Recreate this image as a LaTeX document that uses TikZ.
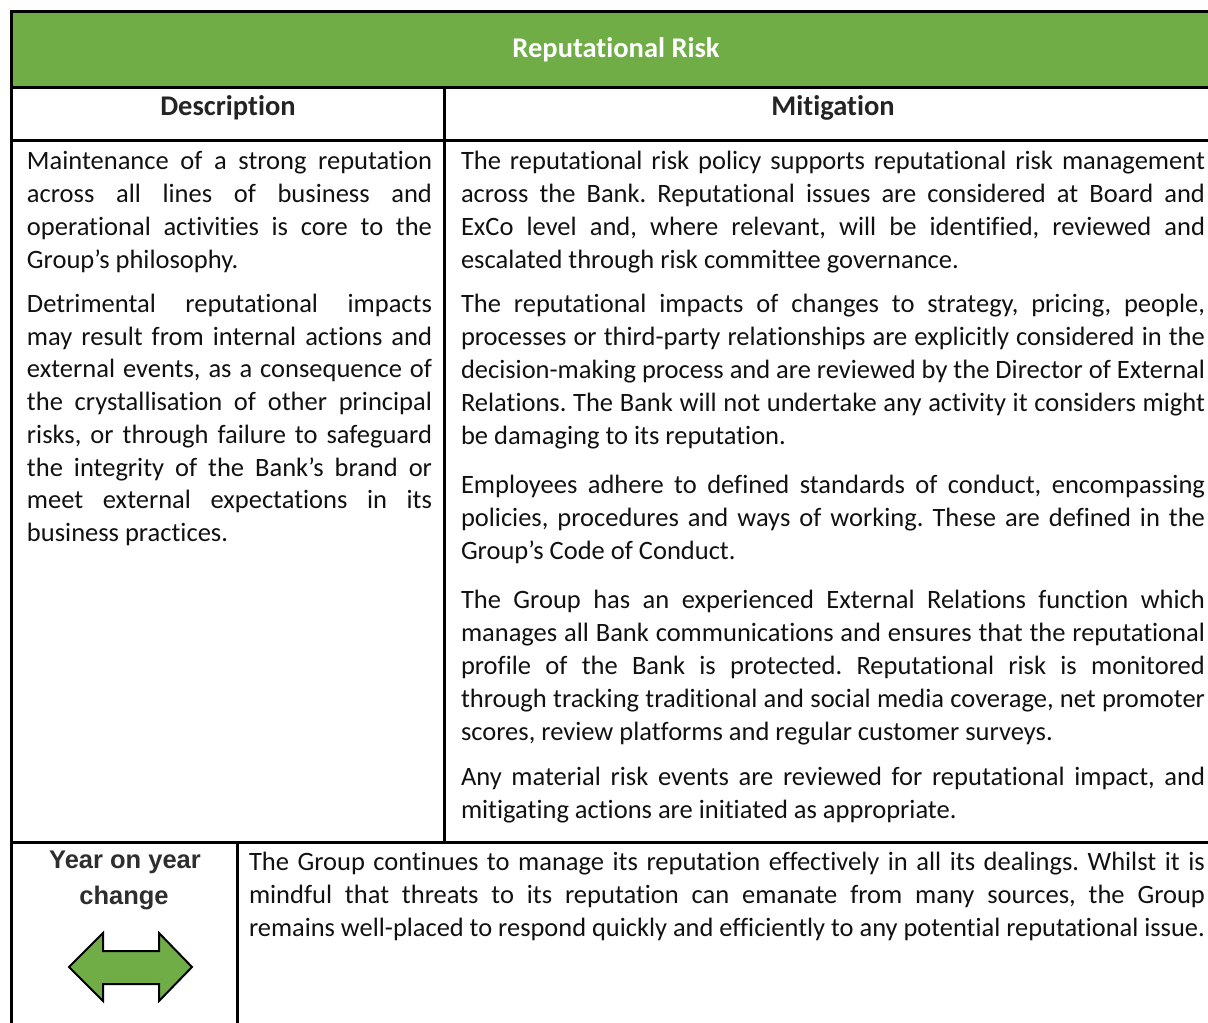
\documentclass[tikz,border=0pt]{standalone}
\usepackage{fontspec}
\setmainfont{Carlito}[Ligatures=NoCommon]
\newfontfamily\arialfont{Liberation Sans}
\usepackage{graphicx}
\frenchspacing
\definecolor{hdrgreen}{HTML}{70AD47}
\definecolor{ink}{HTML}{111111}
\newlength\jlw
\newcommand\jline[2]{\settowidth\jlw{#2}\ifdim\jlw>#1\relax\pgfmathsetmacro\jlf{#1/\jlw}\scalebox{\jlf}[1]{#2}\else\makebox[#1][s]{#2}\fi}
\newcommand\fline[2]{\settowidth\jlw{#2}\ifdim\jlw>#1\relax\pgfmathsetmacro\jlf{#1/\jlw}\scalebox{\jlf}[1]{#2}\else #2\fi}
\tikzset{
  rule/.style={line width=2.8pt, draw=black},
  body/.style={inner sep=0pt, outer sep=0pt, anchor=base west, text=ink, font=\fontsize{26.5}{31}\selectfont\frenchspacing},
  hdr/.style={inner sep=0pt, outer sep=0pt, anchor=base, font=\fontsize{28.5}{34}\selectfont\bfseries},
  yoy/.style={inner sep=0pt, outer sep=0pt, anchor=base, text=ink!88!white, font=\arialfont\bfseries\fontsize{25.5}{30}\selectfont},
  arrowshape/.style={fill=hdrgreen, draw=black, line width=2pt, line join=miter},
}
\begin{document}
\begin{tikzpicture}[x=1pt,y=-1pt]
\useasboundingbox (0,0) rectangle (1208,1023);
% green title band
\fill[hdrgreen] (13,13) rectangle (1208,86);
% rules
\draw[rule] (1208,11.5) -- (11.5,11.5) -- (11.5,1023);
\draw[rule] (13,87.3) -- (1208,87.3);
\draw[rule] (13,140.7) -- (1208,140.7);
\draw[rule] (444.5,87.3) -- (444.5,842.3);
\draw[rule] (13,842.3) -- (1208,842.3);
\draw[rule] (237.5,842.3) -- (237.5,1023);
% headers
\node[hdr, text=white] (title) at (616,57) {Reputational Risk};
\node[hdr, text=ink!92!white] (hdesc) at (228,115) {Description};
\node[hdr, text=ink!92!white] (hmit) at (833,115) {Mitigation};
% description column
\node[body] (d1) at (27,169) {\jline{405pt}{Maintenance of a strong reputation}};
\node[body] (d2) at (27,202) {\jline{405pt}{across all lines of business and}};
\node[body] (d3) at (27,235) {\jline{405pt}{operational activities is core to the}};
\node[body] (d4) at (27,268) {\fline{405pt}{Group’s philosophy.}};
\node[body] (d5) at (27,312) {\jline{405pt}{Detrimental reputational impacts}};
\node[body] (d6) at (27,345) {\jline{405pt}{may result from internal actions and}};
\node[body] (d7) at (27,377.5) {\jline{405pt}{external events, as a consequence of}};
\node[body] (d8) at (27,410) {\jline{405pt}{the crystallisation of other principal}};
\node[body] (d9) at (27,443) {\jline{405pt}{risks, or through failure to safeguard}};
\node[body] (d10) at (27,476) {\jline{405pt}{the integrity of the Bank’s brand or}};
\node[body] (d11) at (27,508.5) {\jline{405pt}{meet external expectations in its}};
\node[body] (d12) at (27,541) {\fline{405pt}{business practices.}};
% mitigation column
\node[body] (m1) at (461,169) {\jline{744pt}{The reputational risk policy supports reputational risk management}};
\node[body] (m2) at (461,202) {\jline{744pt}{across the Bank. Reputational issues are considered at Board and}};
\node[body] (m3) at (461,235) {\jline{744pt}{ExCo level and, where relevant, will be identified, reviewed and}};
\node[body] (m4) at (461,268) {\fline{744pt}{escalated through risk committee governance.}};
\node[body] (m5) at (461,312) {\jline{744pt}{The reputational impacts of changes to strategy, pricing, people,}};
\node[body] (m6) at (461,345) {\jline{744pt}{processes or third-party relationships are explicitly considered in the}};
\node[body] (m7) at (461,378) {\jline{744pt}{decision-making process and are reviewed by the Director of External}};
\node[body] (m8) at (461,411) {\jline{744pt}{Relations. The Bank will not undertake any activity it considers might}};
\node[body] (m9) at (461,444) {\fline{744pt}{be damaging to its reputation.}};
\node[body] (m10) at (461,493) {\jline{744pt}{Employees adhere to defined standards of conduct, encompassing}};
\node[body] (m11) at (461,526) {\jline{744pt}{policies, procedures and ways of working. These are defined in the}};
\node[body] (m12) at (461,559) {\fline{744pt}{Group’s Code of Conduct.}};
\node[body] (m13) at (461,608) {\jline{744pt}{The Group has an experienced External Relations function which}};
\node[body] (m14) at (461,641) {\jline{744pt}{manages all Bank communications and ensures that the reputational}};
\node[body] (m15) at (461,674) {\jline{744pt}{profile of the Bank is protected. Reputational risk is monitored}};
\node[body] (m16) at (461,707) {\jline{744pt}{through tracking traditional and social media coverage, net promoter}};
\node[body] (m17) at (461,740) {\fline{744pt}{scores, review platforms and regular customer surveys.}};
\node[body] (m18) at (461,785) {\jline{744pt}{Any material risk events are reviewed for reputational impact, and}};
\node[body] (m19) at (461,818) {\fline{744pt}{mitigating actions are initiated as appropriate.}};
% year on year row
\node[yoy] (y1) at (125,868) {Year on year};
\node[yoy] (y2) at (124,904) {change};
\draw[arrowshape] (69,967) -- (103,933) -- (103,951) -- (159,951) -- (159,933) -- (192,967)
  -- (159,1001) -- (159,984) -- (103,984) -- (103,1001) -- cycle;
\node[body] (b1) at (249,870) {\jline{956pt}{The Group continues to manage its reputation effectively in all its dealings. Whilst it is}};
\node[body] (b2) at (249,903) {\jline{956pt}{mindful that threats to its reputation can emanate from many sources, the Group}};
\node[body] (b3) at (249,936) {\jline{956pt}{remains well-placed to respond quickly and efficiently to any potential reputational issue.}};
\end{tikzpicture}
\end{document}
